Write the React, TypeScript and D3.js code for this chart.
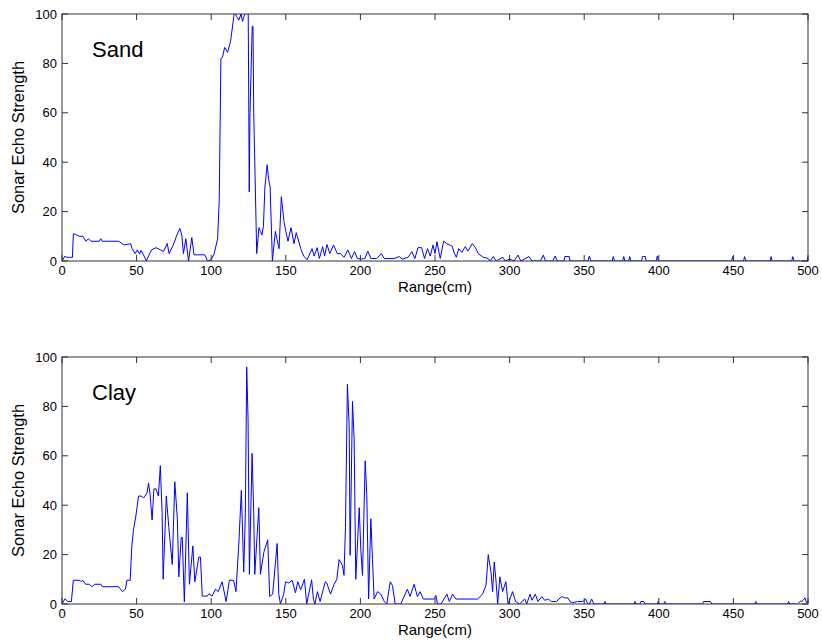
import React from "react";
import * as d3 from "d3";

// ---- Data ----
const sandRange = [0,2,3,5,7,7.6,9,11.6,14,15,16,17.8,19.4,25,26,27,38,41.5,46,47,49,50.5,52,53,55,56.5,58,60,63,66,68,70.5,71.8,74.6,77,79,80.3,81.4,83,84.8,87,88.5,91,95.8,97.5,100,102,104.3,105.4,106.5,107.6,109,111,113,114.5,115.6,117,118.5,120,121,122,123.5,124.8,125.2,125.5,126,127.5,128,128.5,130.5,132,133,134,135,136,137.5,138.5,139.5,141,143,144,145.5,147,148.8,150,151.5,153.5,155.5,157,160,162,164.3,167.6,169,171,172.5,174.7,176,177.6,179.5,182,184.5,186.7,189,191.6,194,196.1,198,200.6,203,205,207,211,214,216,222.7,226,228,232,234.5,236.5,238.6,241,243,245,246.8,248.7,250,251.3,253.5,255.8,258,261.5,263,264.3,265.9,268,270.3,272,275,277,279,282.3,285.7,287,289,291,295.5,297,300,303,305.6,307.5,313,315,320.6,322.6,324,329,330.5,332,336.5,337,340,340.5,352.5,353.4,354.5,368.8,369.5,370.3,375.8,376.5,377.3,379.8,380.5,381.3,388.5,389,391,391.5,398.3,399,399.8,448.8,449.5,450.3,456.8,457.5,458.3,474.6,475.3,476,489.1,489.8,490.6,499.3,500];
const sandEcho = [0,2,1.5,1.5,1.5,11,10.8,10,10,9,8,9,8,8,9,8,8,6.5,7,5,3,4.5,2.8,4.3,2,0,2,4.5,5.4,4.5,3.8,7.1,3,6.5,10.5,13.2,10.5,3,9,0,9.5,2.5,2.5,2.5,0,0.5,3,9,25,82,82.5,86.5,84.5,89,96,101,99,97.5,100,97,99,101,101,60,28,60,95,95,60,3,13.5,12,10.5,14,30,39,33,30,0,12,9,5,26,16,12,8,13.5,7,11.5,5,2,0.5,5,2,5.4,1,5.8,2,6.7,3,6.5,3,3,1.5,4.5,1,3.8,1,0.8,1,4,1,1,3,1,1,1.8,0.8,1.5,3.8,1,5.4,5.4,1,5,2,6.5,3,7.8,1,8,7,6,3,1.5,5,3.5,5.8,4,7,5.5,3,1.5,1,0,1.8,0,1.5,0,0.8,0,2.4,0,1.8,0,0,2.4,0,0,2,0,0,1.8,1.8,0,0,2,0,0,1.8,0,0,1.8,0,0,1.8,0,0,1.8,1.8,0,0,2,0,0,1.8,0,0,1.8,0,0,1.8,0,0,1.8,0,0,1.8];

const clayRange = [0,2,4,6.3,7.6,12,12.9,14,15.8,18.4,20,22,26,27,38,40.5,42.5,43.5,45.7,46.8,47.9,49.5,51.3,53,54.8,57,58,59,60.4,61.6,63,64.6,65.9,67.1,67.8,69.9,71.6,73.9,75.6,77.3,78.3,79.9,80.6,82,84,85.4,87.7,89,91.7,92.8,94,97.3,98.4,100.6,102.9,104.7,107.3,110,112.2,115,116.6,118.4,120.2,121.8,122.9,123.8,124.7,125.6,127.4,128.5,129.2,131.9,133,135.3,137.9,139.2,141.2,144.2,145.3,146.4,148.6,149.8,152,154.3,156.5,158,160,162.5,164,167.3,168.5,169.5,171.2,173,176.4,177.5,180,182.4,184.2,185.7,188,189,190,191.3,192.5,193.1,194.7,195.8,196.9,199.2,200.3,201.4,203.2,204.3,205.5,207,208.1,209.2,211.5,213.7,216,217.7,220,221.5,223.3,227,231.5,233.3,236,238.2,240,242.2,249.4,250.6,251.7,254,258,259.6,261.8,264,278.5,281.9,284.2,285.7,287.5,288.6,289.7,290.8,292,293.5,295.3,297.5,299,302,304,306.6,310.2,311.5,313.7,315,317.2,319,321.6,323.5,326,328,331.5,333,335,337,339,340.5,342,345.5,349,351,352.5,353.5,355,356.5,363.3,364,364.7,383.3,384,384.7,387.3,388,390,390.7,398.9,399.6,400.3,403.3,404,404.7,429.3,430,434.7,435.4,464.3,465,465.7,486.3,487,487.7,493,495,496,498,499,500];
const clayEcho = [0,2.1,1,1,9.6,9.6,9,9.6,8,8,7,8,8,7,7,5,6,9.6,9.6,23.5,30,35.6,43.7,43.7,43,45,49,44.5,34,46.6,46.6,43.7,56,37,10,43.7,31,16,49.5,34.5,11,27,27,0.8,45,8,23.5,9,19,19,3.2,3.2,4.1,3.2,6,5,9,1,9.6,9.6,5,23,46,13,37,96,75,12,61,37,12,39,12,21,26,3,4,24.5,4,0,4,9,8.5,9.6,4.5,9,5.8,10,0,9.8,2,0,5,1,9,8.5,4,8,10,18,15.6,11.6,31,89,71.7,19.7,82,67,10,39,21.7,11.6,58,44,2,34.5,18,2,5,4,1,0,9,7.5,0,0,6,3,8,3,5,2,2,3.5,0,0,4,1,4,2,2,4,7.6,20,13,5,17,10,0,11,5,9,0,5,1,0,2,0,4,1.5,4,1,3,1.5,2,1,1,2,3,2.5,2.5,1,0.5,1,1,2,0,0,2,0,0,1,0,0,1,0,0,1,1,0,0,1,0,0,1,0,0,1,1,0,0,1,0,0,1,0,0,1.2,1,2.5,0.5,1];

const xTicks = [0, 50, 100, 150, 200, 250, 300, 350, 400, 450, 500];
const yTicks = [0, 20, 40, 60, 80, 100];
const panelLabels = ["Sand", "Clay"];
const xLabel = "Range(cm)";
const yLabel = "Sonar Echo Strength";

const FONT = "'Liberation Sans', Arial, sans-serif";
const LEFT = 62;
const RIGHT = 808;
const PANEL_TOPS = [14, 357];
const PANEL_H = 247;
const TICK = 6;

function Panel({ idx, xs, ys }: { idx: number; xs: number[]; ys: number[] }) {
  const top = PANEL_TOPS[idx];
  const bottom = top + PANEL_H;
  const x = d3.scaleLinear().domain([0, 500]).range([LEFT, RIGHT]);
  const y = d3.scaleLinear().domain([0, 100]).range([bottom, top]);
  const pts: [number, number][] = xs.map((v, i) => [v, ys[i]]);
  const line = d3
    .line<[number, number]>()
    .x((d) => x(d[0]))
    .y((d) => y(d[1]));
  const clipId = `clip${idx}`;
  return (
    <g>
      <defs>
        <clipPath id={clipId}>
          <rect x={LEFT} y={top} width={RIGHT - LEFT} height={PANEL_H} />
        </clipPath>
      </defs>
      <rect x={LEFT} y={top} width={RIGHT - LEFT} height={PANEL_H} fill="#fff" />
      <path
        d={line(pts) || ""}
        fill="none"
        stroke="#0000ff"
        strokeWidth={1}
        clipPath={`url(#${clipId})`}
      />
      <rect x={LEFT} y={top} width={RIGHT - LEFT} height={PANEL_H} fill="none" stroke="#333" strokeWidth={1} />
      {xTicks.map((t) => (
        <g key={"x" + t}>
          <line x1={x(t)} x2={x(t)} y1={bottom} y2={bottom - TICK} stroke="#333" />
          <line x1={x(t)} x2={x(t)} y1={top} y2={top + TICK} stroke="#333" />
          <text x={x(t)} y={bottom + 14} fontSize={13} fontFamily={FONT} textAnchor="middle" fill="#000">
            {t}
          </text>
        </g>
      ))}
      {yTicks.map((t) => (
        <g key={"y" + t}>
          <line x1={LEFT} x2={LEFT + TICK} y1={y(t)} y2={y(t)} stroke="#333" />
          <line x1={RIGHT} x2={RIGHT - TICK} y1={y(t)} y2={y(t)} stroke="#333" />
          <text x={LEFT - 5} y={y(t) + 4.5} fontSize={13} fontFamily={FONT} textAnchor="end" fill="#000">
            {t}
          </text>
        </g>
      ))}
      <text x={92} y={top + 43} fontSize={22} fontFamily={FONT} fill="#000">
        {panelLabels[idx]}
      </text>
      <text
        x={(LEFT + RIGHT) / 2}
        y={bottom + 31}
        fontSize={15}
        fontFamily={FONT}
        textAnchor="middle"
        fill="#000"
      >
        {xLabel}
      </text>
      <text
        transform={`translate(24,${(top + bottom) / 2}) rotate(-90)`}
        fontSize={16.5}
        fontFamily={FONT}
        textAnchor="middle"
        fill="#000"
      >
        {yLabel}
      </text>
    </g>
  );
}

export default function App() {
  return (
    <svg
      width={822}
      height={644}
      style={{ position: "absolute", left: 0, top: 0, background: "#fff" }}
    >
      <rect width={822} height={644} fill="#fff" />
      <Panel idx={0} xs={sandRange} ys={sandEcho} />
      <Panel idx={1} xs={clayRange} ys={clayEcho} />
    </svg>
  );
}
